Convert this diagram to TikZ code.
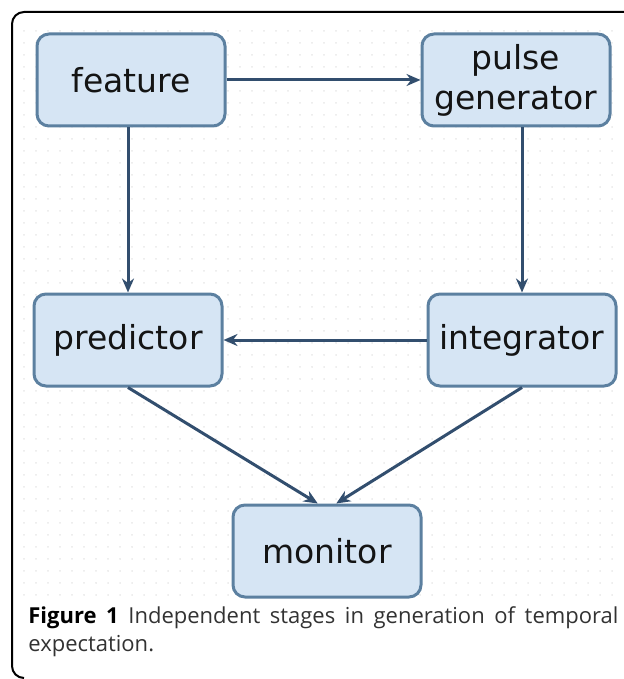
\documentclass[tikz,border=0pt]{standalone}
\usepackage{fontspec}
\setmainfont{Open Sans}
\newfontfamily\boxfont{DejaVu Sans}
\usetikzlibrary{arrows.meta}
\usetikzlibrary{patterns.meta}

\definecolor{boxfill}{RGB}{214,229,244}
\definecolor{boxline}{RGB}{92,128,160}
\definecolor{arrowline}{RGB}{50,78,110}
\definecolor{captiontext}{RGB}{50,50,50}

\begin{document}
\begin{tikzpicture}[x=0.5pt, y=-0.5pt]

\useasboundingbox (0, 0) rectangle (624, 679) ;

% faint dotted background

\fill [pattern={Dots[distance=6pt, radius=0.5pt]}, pattern color=black!9]
	(22, 22) rectangle (620, 604) ;

% frame

\draw [line width=1pt, color=black, rounded corners=6pt]
	(24, 678) -- (12, 678) -- (12, 12) -- (640, 12) ;

% stages

\tikzstyle{stage box} =
	[draw=boxline, fill=boxfill, line width=1.5pt, rounded corners=6pt,
	 minimum width=94pt, minimum height=46pt, inner sep=2pt,
	 align=center, text=black!92, font=\boxfont\fontsize{16.5}{20}\selectfont]

\node [stage box] (feature) at (131, 80) {feature} ;
\node [stage box] (pulse) at (516, 80) {pulse\\generator} ;
\node [stage box] (predictor) at (128, 340) {predictor} ;
\node [stage box] (integrator) at (522, 340) {integrator} ;
\node [stage box] (monitor) at (327, 551) {monitor} ;

% connections

\tikzstyle{stage arrow} =
	[line width=1.5pt, color=arrowline, -{Stealth[length=7pt, width=6pt]}]

\draw [stage arrow] (feature) -- (pulse) ;
\draw [stage arrow] (feature.south -| predictor.north) -- (predictor.north) ;
\draw [stage arrow] (pulse.south -| integrator.north) -- (integrator.north) ;
\draw [stage arrow] (integrator) -- (predictor) ;
\draw [stage arrow] (predictor.south) -- (monitor.101) ;
\draw [stage arrow] (integrator.south) -- (monitor.79) ;

% caption

\node [anchor=north west, inner sep=0pt, text width=295pt, align=justify,
	font=\fontsize{11}{14}\selectfont, text=captiontext] (caption) at (28, 606)
	{{\color{black}\bfseries Figure\ 1} Independent stages in generation of temporal\linebreak expectation.} ;

\end{tikzpicture}
\end{document}
